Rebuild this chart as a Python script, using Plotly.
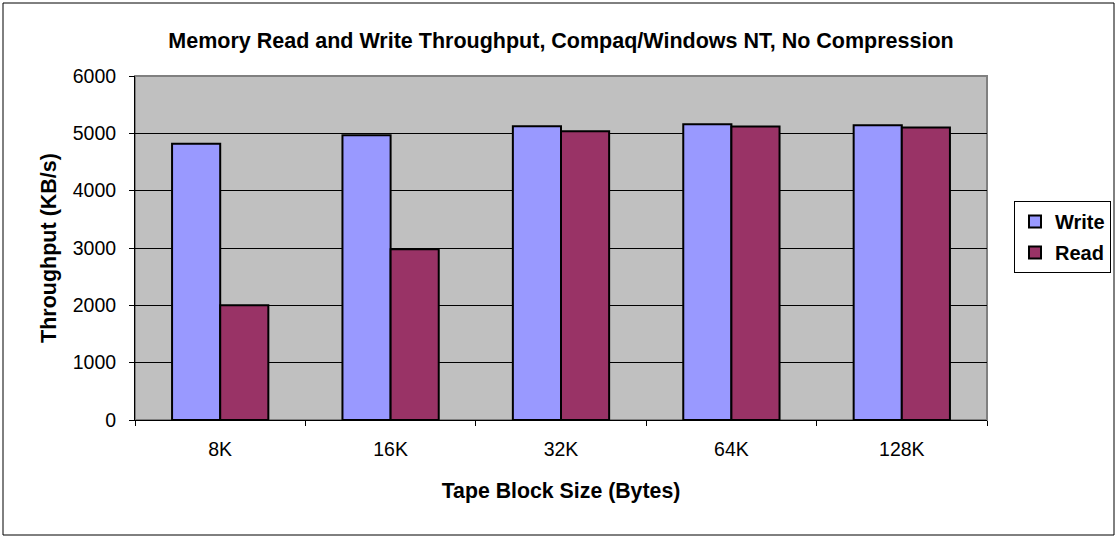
import plotly.graph_objects as go

categories = ["8K", "16K", "32K", "64K", "128K"]
write_vals = [4820, 4965, 5125, 5160, 5140]
read_vals = [2000, 2980, 5035, 5120, 5100]

W, H = 1118, 538
L, R, T, B = 135, 131, 76, 118
pw = W - L - R
ph = H - T - B

fig = go.Figure()
fig.add_trace(go.Bar(name="<b>Write</b>", x=categories, y=write_vals, legendgroup="w",
                     marker=dict(color="#9999FF", line=dict(color="black", width=2))))
fig.add_trace(go.Bar(name="<b>Read</b>", x=categories, y=read_vals, legendgroup="r",
                     marker=dict(color="#993366", line=dict(color="black", width=2))))

font = "Liberation Sans, Arial, sans-serif"
fig.update_layout(
    width=W, height=H,
    margin=dict(l=L, r=R, t=T, b=B, autoexpand=False),
    paper_bgcolor="white", plot_bgcolor="#C0C0C0",
    barmode="group", bargap=0.435, bargroupgap=0,
    font=dict(family=font, size=19.5, color="black"),
    title=dict(text="<b>Memory Read and Write Throughput, Compaq/Windows NT, No Compression</b>",
               x=(L + pw / 2) / W, xanchor="center", y=1 - 40 / H, yanchor="middle",
               font=dict(size=21.5)),
    legend=dict(xref="container", yref="container",
                x=1111 / W, y=1 - 201 / H, xanchor="right", yanchor="top",
                bordercolor="black", borderwidth=1, bgcolor="white",
                font=dict(size=20, family=font), itemwidth=30,
                traceorder="grouped", tracegroupgap=2),
    showlegend=True,
)
fig.update_xaxes(
    title=dict(text="<b>Tape Block Size (Bytes)</b>", standoff=23, font=dict(size=21.3)),
    showline=True, linecolor="black", linewidth=1,
    ticks="outside", tickson="boundaries", ticklen=5, tickcolor="black",
    ticklabelstandoff=12,
    showgrid=False, mirror=False,
)
fig.update_yaxes(
    title=dict(text="<b>Throughput (KB/s)</b>", standoff=10, font=dict(size=21.5)),
    range=[0, 6000], dtick=1000,
    showline=True, linecolor="black", linewidth=1,
    ticks="outside", ticklen=5, tickcolor="black",
    ticklabelstandoff=9,
    showgrid=True, gridcolor="black", gridwidth=1,
    zeroline=False,
)
# outer chart border
fig.add_shape(type="rect", xref="paper", yref="paper",
              x0=(3 - L) / pw, x1=(1114 - L) / pw,
              y0=(T + ph - 535) / ph, y1=(T + ph - 3) / ph,
              line=dict(color="black", width=1), layer="below")
# plot area border top/right
fig.add_shape(type="rect", xref="paper", yref="paper", x0=0, x1=1, y0=0, y1=1,
              line=dict(color="#808080", width=2), layer="below")

fig.write_html("out.html")
